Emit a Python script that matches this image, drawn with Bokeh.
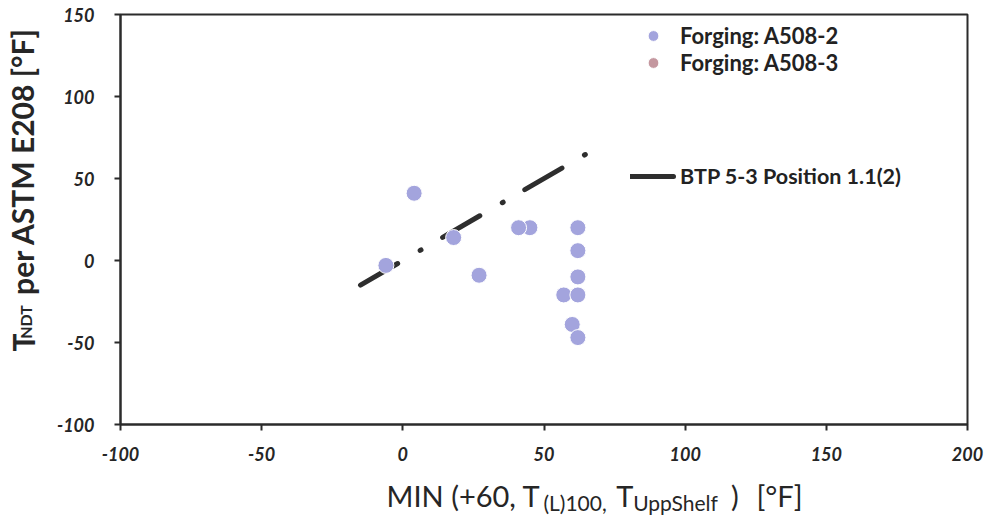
import math
from bokeh.plotting import figure
from bokeh.models import Range1d, FixedTicker, Legend, LegendItem, LinearAxis
from bokeh.embed import file_html
from bokeh.resources import INLINE

# ---- data ----
x_ticks = [-100, -50, 0, 50, 100, 150, 200]
y_ticks = [-100, -50, 0, 50, 100, 150]

a508_2_x = [45, 41, 4, -6, 18, 27, 62, 62, 62, 57, 62, 60, 62]
a508_2_y = [20, 20, 41, -3, 14, -9, 20, 6, -10, -21, -21, -39, -47]
a508_3_x = [float("nan")]   # series listed in legend, no visible points
a508_3_y = [float("nan")]

btp_x = [-15, 65]
btp_y = [-15, 65]

series_labels = ["Forging: A508-2", "Forging: A508-3", "BTP 5-3 Position 1.1(2)"]

# axis-title pieces (main text / subscripts)
xt_main = ["MIN (+60, T", "T", ")", "[°F]"]
xt_sub = ["(L)100,", "UppShelf"]
yt_main = ["T", "per ASTM E208  [°F]"]
yt_sub = ["NDT"]

# ---- layout positions of the title pieces (data units along the axis) ----
xt_main_pos = [21.5, 78.6, 117.6, 133.4]
xt_sub_pos = [61.0, 96.6]
yt_main_pos = [-50.0, 62.8]
yt_sub_pos = [-37.5]

FONT = "Lato"
DARK = "#262626"

p = figure(width=996, height=518, x_range=Range1d(-100, 200), y_range=Range1d(-100, 150),
           output_backend="svg", toolbar_location=None,
           min_border_left=120, min_border_right=29, min_border_top=14, min_border_bottom=94)
p.xgrid.visible = False
p.ygrid.visible = False
p.outline_line_color = "#2b2b2b"
p.outline_line_width = 2


def style_axis(ax, ticks):
    ax.ticker = FixedTicker(ticks=ticks)
    ax.axis_line_width = 2
    ax.axis_line_color = "#2b2b2b"
    ax.major_tick_in = 0
    ax.major_tick_out = 6
    ax.major_tick_line_width = 2
    ax.major_tick_line_color = "#2b2b2b"
    ax.minor_tick_in = 0
    ax.minor_tick_out = 0
    ax.major_label_text_font = FONT
    ax.major_label_text_font_style = "bold italic"
    ax.major_label_text_font_size = "18px"
    ax.major_label_text_color = DARK
    ax.major_label_overrides = {t: str(t) for t in ticks}


style_axis(p.xaxis[0], x_ticks)
style_axis(p.yaxis[0], y_ticks)
p.xaxis.major_label_standoff = 16
p.yaxis.major_label_standoff = 20


def title_axis(side, pos, texts, size, style, standoff, orientation):
    ax = LinearAxis(ticker=FixedTicker(ticks=pos),
                    major_label_overrides={v: t for v, t in zip(pos, texts)},
                    axis_line_color=None, major_tick_line_color=None,
                    major_tick_in=0, major_tick_out=0, minor_tick_in=0, minor_tick_out=0,
                    major_label_standoff=standoff, major_label_orientation=orientation,
                    major_label_text_font=FONT, major_label_text_font_size=size,
                    major_label_text_font_style=style, major_label_text_color=DARK)
    p.add_layout(ax, side)
    return ax


# x title: main pieces then subscripts (subscript axis pulled up by a negative standoff)
title_axis("below", xt_main_pos, xt_main, "29px", "normal", 14, "horizontal")
title_axis("below", xt_sub_pos, xt_sub, "21px", "normal", -26, "horizontal")
# y title
title_axis("left", yt_main_pos, yt_main, "30px", "bold", 13, "parallel")
title_axis("left", yt_sub_pos, yt_sub, "16px", "bold", -33, "parallel")

btp = p.line(btp_x, btp_y, line_width=5, line_color="#2e2e2e", line_dash="43 26 1 25", line_cap="round")
pts = p.scatter(a508_2_x, a508_2_y, size=16, fill_color="#a3a4dd", line_color="white", line_width=1)
r3 = p.scatter(a508_3_x, a508_3_y, size=16, fill_color="#c4979f", line_color="white", line_width=1)

leg1 = Legend(items=[LegendItem(label=series_labels[0], renderers=[pts]),
                     LegendItem(label=series_labels[1], renderers=[r3])],
              location=(518, 348), orientation="vertical", glyph_width=30, glyph_height=27,
              label_height=27, spacing=0, padding=0, margin=0, label_standoff=12,
              label_text_font=FONT, label_text_font_style="bold", label_text_font_size="22px",
              label_text_color="#222222", border_line_color=None, background_fill_alpha=0)
leg2 = Legend(items=[LegendItem(label=series_labels[2], renderers=[btp])],
              location=(510, 235), orientation="vertical", glyph_width=46, glyph_height=24,
              label_height=24, spacing=0, padding=0, margin=0, label_standoff=4,
              label_text_font=FONT, label_text_font_style="bold", label_text_font_size="21.5px",
              label_text_color="#222222", border_line_color=None, background_fill_alpha=0)
p.add_layout(leg1)
p.add_layout(leg2)

open("out.html", "w").write(file_html(p, INLINE))
